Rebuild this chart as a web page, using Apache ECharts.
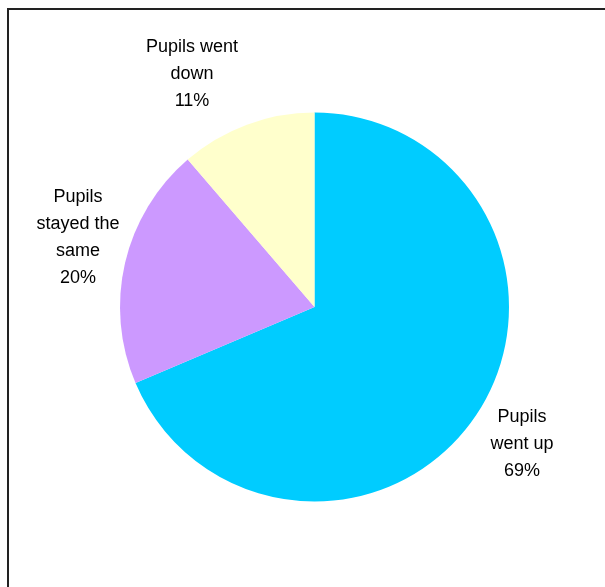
<!DOCTYPE html>
<html>
<head>
<meta charset="utf-8">
<script src="https://cdn.jsdelivr.net/npm/echarts@6/dist/echarts.min.js"></script>
<style>
  html, body { margin: 0; padding: 0; background: #fff; }
  #chart { width: 605px; height: 587px; }
</style>
</head>
<body>
<div id="chart"></div>
<script>
// slices, clockwise from 12 o'clock (shares)
var categories = ['Pupils went up', 'Pupils stayed the same', 'Pupils went down'];
var shares = [68.6, 20.1, 11.3];
var labelTexts = ['Pupils\nwent up', 'Pupils\nstayed the\nsame', 'Pupils went\ndown'];
var sliceColors = ['#00ccff', '#cc99ff', '#ffffcc'];

// where each label sits (excel puts them outside the pie)
var labelSpots = [[522, 444], [78, 238], [192, 74]];

var chart = echarts.init(document.getElementById('chart'));

chart.setOption({
    animation: false,
    backgroundColor: '#fff',
    graphic: [
        {
            type: 'rect',
            shape: { x: 8, y: 9, width: 800, height: 800 },
            style: { fill: 'none', stroke: '#222', lineWidth: 2 },
            silent: true
        }
    ],
    series: [
        {
            type: 'pie',
            center: [314.5, 307],
            radius: 194.5,
            startAngle: 90,
            clockwise: true,
            data: categories.map(function (c, i) {
                return { name: c, value: shares[i], itemStyle: { color: sliceColors[i] } };
            }),
            itemStyle: { borderWidth: 0 },
            label: {
                show: true,
                position: 'outside',
                formatter: function (p) {
                    return labelTexts[p.dataIndex] + '\n' + Math.round(p.percent) + '%';
                },
                fontFamily: 'Liberation Sans, Arial, sans-serif',
                fontSize: 18,
                lineHeight: 27,
                color: '#000',
                align: 'center',
                overflow: 'none',
                width: 200
            },
            labelLine: { show: false },
            labelLayout: function (p) {
                var s = labelSpots[p.dataIndex];
                return { x: s[0], y: s[1], align: 'center', verticalAlign: 'middle' };
            }
        }
    ]
});
</script>
</body>
</html>
